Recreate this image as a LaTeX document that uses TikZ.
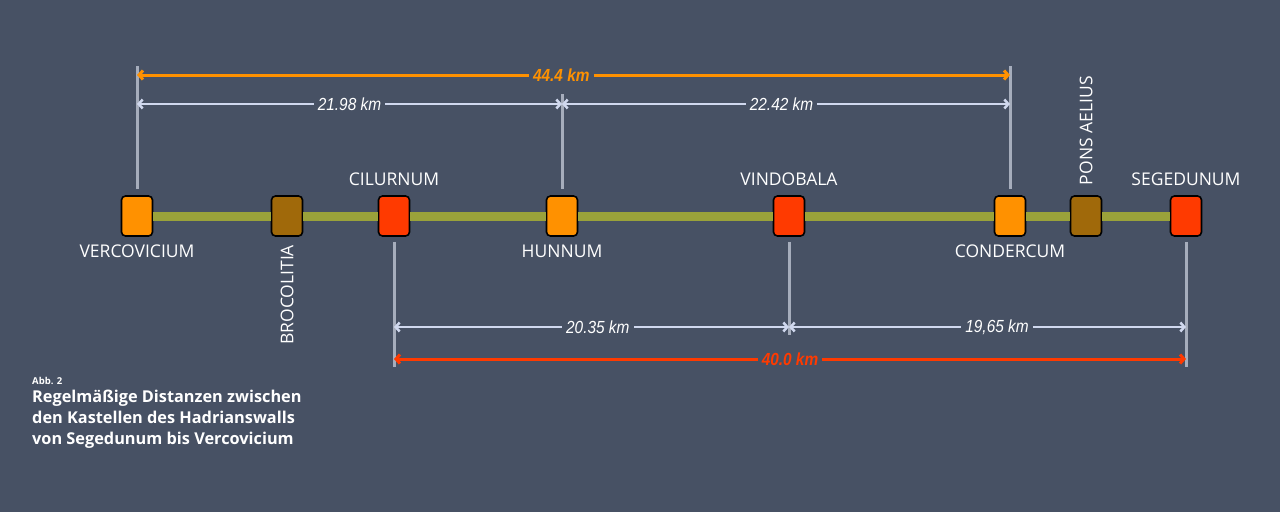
\documentclass[tikz,border=0pt]{standalone}
\usepackage{fontspec}
\setmainfont{Open Sans}
\newfontfamily\distfont[FakeStretch=0.88]{Liberation Sans}
\usetikzlibrary{arrows.meta}

\definecolor{fond}{HTML}{475164}
\definecolor{orangefort}{HTML}{FF9100}
\definecolor{rougefort}{HTML}{FF3A00}
\definecolor{brunfort}{HTML}{A0690A}
\definecolor{murvert}{HTML}{9AA23A}
\definecolor{guidegris}{HTML}{A6ADBC}
\definecolor{cotebleu}{HTML}{D0D8EE}

\tikzset{
  fort/.style={draw=black, line width=1.6pt, rounded corners=4pt,
    minimum width=31pt, minimum height=40pt, inner sep=0pt},
  mur/.style={draw=murvert, line width=9pt},
  nom/.style={text=white, inner sep=0pt, font=\fontsize{17.5}{18}\selectfont},
  guide/.style={draw=guidegris, line width=3pt},
  cote/.style={draw=cotebleu, line width=2.5pt,
    {Straight Barb[length=4pt,width=9pt]}-{Straight Barb[length=4pt,width=9pt]}},
  cotetexte/.style={fill=fond, text=white, inner xsep=4pt, inner ysep=2pt,
    font=\distfont\itshape\fontsize{17.5}{17}\selectfont},
  cotegras/.style={cotetexte, font=\distfont\bfseries\itshape\fontsize{17.5}{17}\selectfont},
}

\begin{document}
\begin{tikzpicture}[x=1pt, y=-1pt]
  \fill[fond] (0,0) rectangle (1280,512);
  \useasboundingbox (0,0) rectangle (1280,512);

  % Les castella
  \foreach \n/\x/\c in {verc/137/orangefort, broc/287/brunfort, cilu/394/rougefort,
      hunn/562/orangefort, vind/789/rougefort, cond/1010/orangefort,
      pons/1086/brunfort, sege/1186/rougefort} {
    \node[fort, fill=\c] (\n) at (\x,216) {};
  }

  % Le mur
  \foreach \a/\b in {verc/broc, broc/cilu, cilu/hunn, hunn/vind, vind/cond, cond/pons, pons/sege} {
    \draw[mur] (\a) -- (\b);
  }

  % Les noms
  \node[nom, anchor=base] (verc-nom) at ([yshift=-21pt]verc.south) {VERCOVICIUM};
  \node[nom, anchor=east, rotate=90] (broc-nom) at ([yshift=-8pt]broc.south) {BROCOLITIA};
  \node[nom, anchor=base] (cilu-nom) at ([yshift=10pt]cilu.north) {CILURNUM};
  \node[nom, anchor=base] (hunn-nom) at ([yshift=-21pt]hunn.south) {HUNNUM};
  \node[nom, anchor=base] (vind-nom) at ([yshift=10pt]vind.north) {VINDOBALA};
  \node[nom, anchor=base] (cond-nom) at ([yshift=-21pt]cond.south) {CONDERCUM};
  \node[nom, anchor=west, rotate=90] (pons-nom) at ([yshift=10pt]pons.north) {PONS AELIUS};
  \node[nom, anchor=base] (sege-nom) at ([yshift=10pt]sege.north) {SEGEDUNUM};

  % Les repères
  \coordinate (vercH) at (137,66);
  \coordinate (hunnH) at (562,94);
  \coordinate (condH) at (1010,66);
  \coordinate (ciluB) at (394,367);
  \coordinate (vindB) at (789,335);
  \coordinate (segeB) at (1186,367);
  \draw[guide] ([yshift=6pt]verc.north) -- (vercH);
  \draw[guide] ([yshift=6pt]hunn.north) -- (hunnH);
  \draw[guide] ([yshift=6pt]cond.north) -- (condH);
  \draw[guide] ([yshift=-5pt]cilu.south) -- (ciluB);
  \draw[guide] ([yshift=-5pt]vind.south) -- (vindB);
  \draw[guide] ([yshift=-5pt]sege.south) -- (segeB);

  % Les cotes
  \coordinate (rang1) at (0,75);
  \coordinate (rang2) at (0,104);
  \coordinate (rang3) at (0,327);
  \coordinate (rang4) at (0,359);
  \draw[cote, draw=orangefort, line width=3pt] (vercH |- rang1)
    -- node[cotegras, text=orangefort, pos=0.486] (total-ouest) {44.4 km} (condH |- rang1);
  \draw[cote] (vercH |- rang2) -- node[cotetexte] (cote1) {21.98 km} (hunnH |- rang2);
  \draw[cote] (hunnH |- rang2) -- node[cotetexte, pos=0.49] (cote2) {22.42 km} (condH |- rang2);
  \draw[cote] (ciluB |- rang3) -- node[cotetexte, pos=0.516] (cote3) {20.35 km} (vindB |- rang3);
  \draw[cote] (vindB |- rang3) -- node[cotetexte, pos=0.524] (cote4) {19,65 km} (segeB |- rang3);
  \draw[cote, draw=rougefort, line width=3pt] (ciluB |- rang4)
    -- node[cotegras, text=rougefort] (total-est) {40.0 km} (segeB |- rang4);

  % La légende
  \node[anchor=base west, text=white, inner sep=0pt, font=\bfseries\fontsize{9.5}{9}\selectfont]
    (abb) at (32,384) {Abb. 2};
  \node[anchor=north west, align=left, text=white, inner sep=0pt,
    font=\bfseries\fontsize{16.3}{21}\selectfont] (legende) at (32,390)
    {Regelmäßige Distanzen zwischen\\den Kastellen des Hadrianswalls\\von Segedunum bis Vercovicium};
\end{tikzpicture}
\end{document}
